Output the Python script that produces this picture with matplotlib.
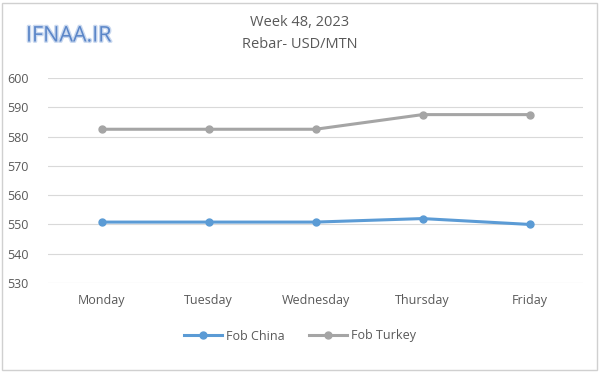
import matplotlib.pyplot as plt
import matplotlib.patheffects as pe
from matplotlib.patches import Rectangle

days = ['Monday', 'Tuesday', 'Wednesday', 'Thursday', 'Friday']
fob_china = [550.8, 550.8, 550.8, 552, 550]
fob_turkey = [582.5, 582.5, 582.5, 587.5, 587.5]
yticks = [530, 540, 550, 560, 570, 580, 590, 600]

plt.rcParams['font.family'] = ['Open Sans', 'DejaVu Sans']
txt = '#595959'

fig = plt.figure(figsize=(6, 3.72), dpi=100)
ax = fig.add_axes([48 / 600, 1 - 283 / 372, (583 - 48) / 600, (283 - 78) / 372])

x = range(len(days))
ax.plot(x, fob_china, color='#5b9bd5', lw=2.2, marker='o', ms=5, label='Fob China')
ax.plot(x, fob_turkey, color='#a5a5a5', lw=2.2, marker='o', ms=5, label='Fob Turkey')

ax.set_xlim(-0.5, len(days) - 0.5)
ax.set_ylim(530, 600)
ax.set_yticks(yticks)
ax.set_xticks(list(x))
ax.set_xticklabels(days)
ax.grid(axis='y', color='#d9d9d9', lw=0.8)
ax.set_axisbelow(True)
for s in ax.spines.values():
    s.set_visible(False)
ax.tick_params(length=0, colors=txt, labelsize=9, pad=8)
ax.tick_params(axis='y', pad=14)

fig.text(0.5, 1 - 22 / 372, 'Week 48, 2023', ha='center', va='center', color=txt, fontsize=10.5)
fig.text(0.5, 1 - 45 / 372, 'Rebar- USD/MTN', ha='center', va='center', color=txt, fontsize=10.5)
fig.text(26 / 600, 1 - 36 / 372, 'IFNAA.IR', ha='left', va='center', color='#5b86c8',
         fontsize=15.5, path_effects=[pe.withStroke(linewidth=2, foreground='#c9d8ef')])

fig.legend(loc='center', bbox_to_anchor=(0.5, 1 - 336 / 372), ncol=2, frameon=False,
           fontsize=9, labelcolor=txt, handlelength=3, columnspacing=2, handletextpad=0.3)

fig.patches.append(Rectangle((2 / 600, 2 / 372), 595 / 600, 367 / 372, transform=fig.transFigure,
                             fill=False, edgecolor='#d0d0d0', lw=1))

fig.savefig('out.png', dpi=100)
